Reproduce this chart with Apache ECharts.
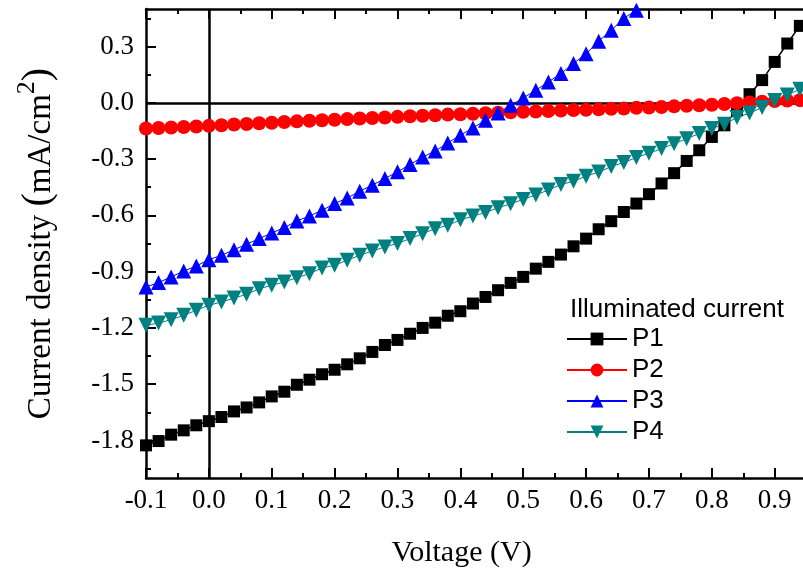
<!DOCTYPE html>
<html>
<head>
<meta charset="utf-8">
<script src="https://cdn.jsdelivr.net/npm/echarts@6/dist/echarts.min.js"></script>
<style>
  html, body { margin: 0; padding: 0; background: #fff; }
  #chart { width: 803px; height: 569px; }
</style>
</head>
<body>
<div id="chart"></div>
<script>
// Applied bias (V) for every sweep point
const voltage = [-0.10, -0.08, -0.06, -0.04, -0.02, 0.00, 0.02, 0.04, 0.06, 0.08,
  0.10, 0.12, 0.14, 0.16, 0.18, 0.20, 0.22, 0.24, 0.26, 0.28,
  0.30, 0.32, 0.34, 0.36, 0.38, 0.40, 0.42, 0.44, 0.46, 0.48,
  0.50, 0.52, 0.54, 0.56, 0.58, 0.60, 0.62, 0.64, 0.66, 0.68,
  0.70, 0.72, 0.74, 0.76, 0.78, 0.80, 0.82, 0.84, 0.86, 0.88,
  0.90, 0.92, 0.94];

// Illuminated current density (mA/cm^2)
const p1 = [-1.826, -1.803, -1.769, -1.746, -1.719, -1.697, -1.675, -1.645, -1.624, -1.597,
  -1.565, -1.540, -1.503, -1.476, -1.447, -1.423, -1.394, -1.362, -1.328, -1.291,
  -1.264, -1.231, -1.200, -1.172, -1.135, -1.111, -1.070, -1.035, -0.999, -0.960,
  -0.928, -0.884, -0.848, -0.809, -0.765, -0.724, -0.674, -0.631, -0.582, -0.537,
  -0.487, -0.430, -0.375, -0.310, -0.253, -0.182, -0.120, -0.040, 0.046, 0.121,
  0.218, 0.316, 0.410];

const p2 = [-0.137, -0.134, -0.132, -0.129, -0.126, -0.123, -0.120, -0.116, -0.113, -0.109,
  -0.106, -0.102, -0.099, -0.096, -0.093, -0.090, -0.087, -0.084, -0.081, -0.078,
  -0.075, -0.072, -0.069, -0.066, -0.063, -0.061, -0.058, -0.056, -0.053, -0.051,
  -0.048, -0.046, -0.044, -0.041, -0.039, -0.037, -0.034, -0.032, -0.030, -0.027,
  -0.025, -0.022, -0.019, -0.016, -0.013, -0.010, -0.006, -0.002, 0.002, 0.006,
  0.009, 0.012, 0.014];

const p3 = [-0.982, -0.958, -0.928, -0.897, -0.870, -0.836, -0.813, -0.783, -0.754, -0.724,
  -0.694, -0.665, -0.630, -0.603, -0.573, -0.537, -0.508, -0.471, -0.439, -0.404,
  -0.368, -0.329, -0.289, -0.257, -0.214, -0.173, -0.134, -0.093, -0.054, -0.013,
  0.026, 0.067, 0.111, 0.156, 0.210, 0.262, 0.328, 0.387, 0.450, 0.494,
  0.560];

const p4 = [-1.186, -1.174, -1.156, -1.133, -1.106, -1.079, -1.062, -1.041, -1.021, -0.991,
  -0.973, -0.955, -0.932, -0.911, -0.880, -0.866, -0.839, -0.813, -0.790, -0.768,
  -0.750, -0.724, -0.698, -0.671, -0.653, -0.624, -0.604, -0.585, -0.560, -0.538,
  -0.515, -0.491, -0.465, -0.436, -0.418, -0.391, -0.369, -0.340, -0.318, -0.292,
  -0.269, -0.244, -0.218, -0.191, -0.164, -0.137, -0.114, -0.078, -0.055, -0.025,
  0.012, 0.041, 0.072];

// Tick positions
const xMajor = [-0.1, 0.0, 0.1, 0.2, 0.3, 0.4, 0.5, 0.6, 0.7, 0.8, 0.9];
const xMinor = [-0.05, 0.05, 0.15, 0.25, 0.35, 0.45, 0.55, 0.65, 0.75, 0.85];
const yMajor = [-1.8, -1.5, -1.2, -0.9, -0.6, -0.3, 0.0, 0.3];
const yMinor = [-1.95, -1.65, -1.35, -1.05, -0.75, -0.45, -0.15, 0.15, 0.45];

const seriesNames = ['P1', 'P2', 'P3', 'P4'];

const pairs = (ys) => ys.map((y, i) => [voltage[i], y]);

const serif = "'Liberation Serif', 'Times New Roman', serif";
const sans = "'Liberation Sans', Arial, sans-serif";

const X_MIN = -0.1, X_MAX = 0.945, Y_MIN = -2.0, Y_MAX = 0.5;

function xAxisDef(position, ticks, tickLen, showLine, showLabel) {
  return {
    type: 'value', position: position, min: X_MIN, max: X_MAX,
    splitLine: { show: false },
    axisLine: { show: showLine, onZero: false, lineStyle: { color: '#000', width: 2.5 } },
    axisTick: { show: true, inside: true, length: tickLen, customValues: ticks,
      lineStyle: { color: '#000', width: 2 } },
    axisLabel: showLabel ? {
      show: true, customValues: ticks, margin: 9,
      formatter: (v) => v.toFixed(1),
      color: '#000', fontFamily: serif, fontSize: 27
    } : { show: false }
  };
}

function yAxisDef(ticks, tickLen, showLine, showLabel) {
  return {
    type: 'value', position: 'left', min: Y_MIN, max: Y_MAX,
    splitLine: { show: false },
    axisLine: { show: showLine, onZero: false, lineStyle: { color: '#000', width: 2.5 } },
    axisTick: { show: true, inside: true, length: tickLen, customValues: ticks,
      lineStyle: { color: '#000', width: 2 } },
    axisLabel: showLabel ? {
      show: true, customValues: ticks, margin: 12,
      formatter: (v) => v.toFixed(1),
      color: '#000', fontFamily: serif, fontSize: 27
    } : { show: false }
  };
}

const bottomAxis = xAxisDef('bottom', xMajor, 10, true, true);
bottomAxis.name = 'Voltage (V)';
bottomAxis.nameLocation = 'middle';
bottomAxis.nameGap = 60;
bottomAxis.nameTextStyle = { color: '#000', fontFamily: serif, fontSize: 30, padding: [0, 26, 0, 0] };

const leftAxis = yAxisDef(yMajor, 10, true, true);
leftAxis.name = '{a|Current density }{p|(}{a|mA/cm}{s|2}{p|)}';
leftAxis.nameLocation = 'middle';
leftAxis.nameGap = 88;
leftAxis.nameTextStyle = {
  color: '#000', fontFamily: serif, fontSize: 33,
  rich: {
    a: { fontFamily: serif, fontSize: 33, color: '#000', lineHeight: 44, verticalAlign: 'bottom' },
    p: { fontFamily: serif, fontSize: 40, color: '#000', lineHeight: 44, verticalAlign: 'bottom' },
    s: { fontFamily: serif, fontSize: 26, color: '#000', lineHeight: 44, verticalAlign: 'top' }
  }
};

const markerStyles = [
  { color: '#000000', symbol: 'rect', size: 12, rotate: 0, width: 1.5 },
  { color: '#ff0000', symbol: 'circle', size: 14, rotate: 0, width: 1 },
  { color: '#0000ff', symbol: 'triangle', size: 15, rotate: 0, width: 1 },
  { color: '#008080', symbol: 'triangle', size: 15, rotate: 180, width: 1 }
];
const values = [p1, p2, p3, p4];

const series = [{
  // zero reference lines through the origin
  name: 'origin', type: 'line', data: [], z: 1, silent: true,
  markLine: {
    silent: true, z: 1, animation: false,
    symbol: ['none', 'none'],
    label: { show: false },
    lineStyle: { color: '#000', width: 2.5, type: 'solid' },
    data: [{ xAxis: 0 }, { yAxis: 0 }]
  }
}];
values.forEach((ys, i) => {
  const m = markerStyles[i];
  series.push({
    name: seriesNames[i], type: 'line', data: pairs(ys),
    xAxisIndex: 0, yAxisIndex: 0, z: 3,
    symbol: m.symbol, symbolSize: m.size, symbolRotate: m.rotate,
    itemStyle: { color: m.color, borderWidth: 0 },
    lineStyle: { color: m.color, width: m.width },
    clip: true
  });
});

const chart = echarts.init(document.getElementById('chart'), null, { renderer: 'canvas' });
chart.setOption({
  animation: false,
  backgroundColor: '#fff',
  grid: { left: 146, right: 0, top: 9, bottom: 91, containLabel: false, outerBoundsMode: 'none' },
  title: {
    text: 'Illuminated current', left: 565, top: 292,
    textStyle: { fontFamily: sans, fontSize: 26, fontWeight: 'normal', color: '#000' }
  },
  legend: {
    data: seriesNames, orient: 'vertical', left: 566, top: 326,
    padding: 0, itemGap: 5, itemWidth: 60, itemHeight: 16,
    textStyle: { fontFamily: sans, fontSize: 26, color: '#000', lineHeight: 26 }
  },
  xAxis: [
    bottomAxis,
    xAxisDef('bottom', xMinor, 5, false, false),
    xAxisDef('top', xMajor, 10, true, false),
    xAxisDef('top', xMinor, 5, false, false)
  ],
  yAxis: [
    leftAxis,
    yAxisDef(yMinor, 5, false, false)
  ],
  series: series
});
</script>
</body>
</html>
